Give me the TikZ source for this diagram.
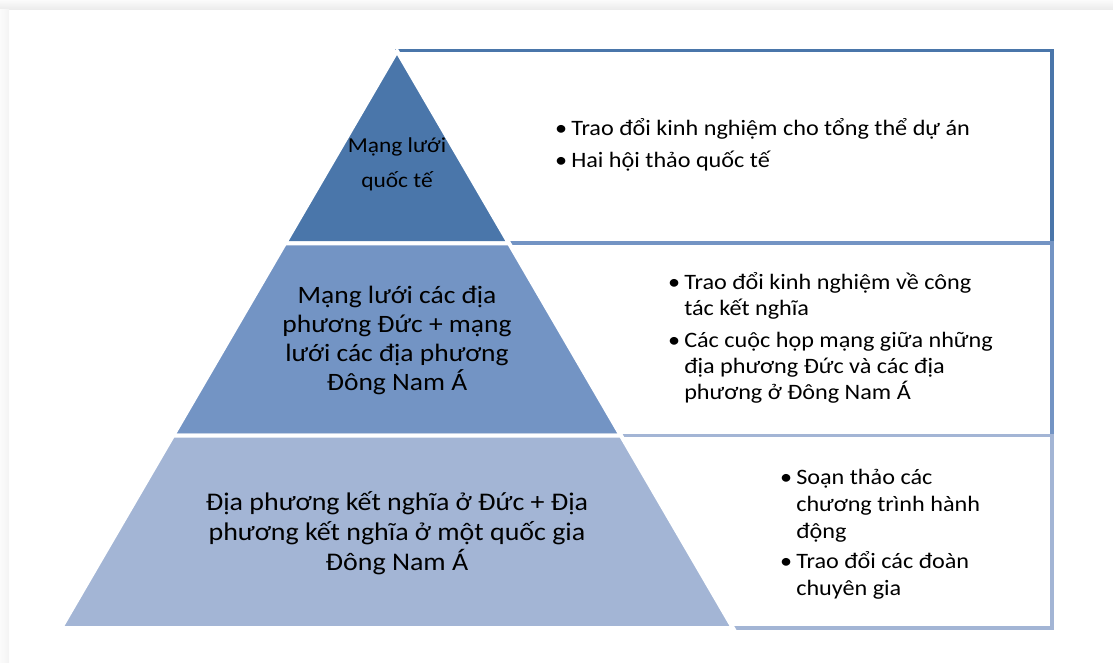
\documentclass[tikz,border=0pt]{standalone}
\usepackage{fontspec}
\setmainfont{Carlito}[FakeStretch=1.1]
\definecolor{tierone}{HTML}{4A76AA}
\definecolor{tiertwo}{HTML}{7394C4}
\definecolor{tierthree}{HTML}{A3B5D5}
\tikzset{
	tier/.style={draw=white, line width=4pt, line join=miter},
	listbox/.style={line width=3.5pt},
	tiertext/.style={align=center, inner sep=0pt},
	listtext/.style={anchor=west, inner sep=0pt, font=\fontsize{22}{26}\selectfont},
}
\newcommand{\bul}{\textbullet}

\begin{document}
\begin{tikzpicture}[x=1pt, y=-1pt]
		%%%%% START %%%%%
		\useasboundingbox (0,0) rectangle (1113,662);
		
		\shade[top color=gray!3, bottom color=gray!15] (0,0) rectangle (1113,9);
		\shade[left color=gray!3, right color=gray!9] (0,9) rectangle (9,662);
		
		\draw[listbox, draw=tierone] (397,50.5) rectangle (1052,243);
		\draw[listbox, draw=tiertwo] (397,243) rectangle (1052,435.5);
		\draw[listbox, draw=tierthree] (397,435.5) rectangle (1052,628);
		
		\filldraw[tier, fill=tierone] (397,51) -- (509,243.3) -- (285,243.3) -- cycle;
		\filldraw[tier, fill=tiertwo] (285,243.3) -- (509,243.3) -- (621,435.7) -- (173,435.7) -- cycle;
		\filldraw[tier, fill=tierthree] (173,435.7) -- (621,435.7) -- (733,628) -- (61,628) -- cycle;
		
		\node[tiertext, font=\fontsize{21.3}{35}\selectfont] (apex) at (397,164) {Mạng lưới\\quốc tế};
		\node[tiertext, font=\fontsize{25}{29}\selectfont] (middle) at (397,340) {Mạng lưới các địa\\phương Đức + mạng\\lưới các địa phương\\Đông Nam Á};
		\node[tiertext, font=\fontsize{25.4}{30}\selectfont] (base) at (397,533) {Địa phương kết nghĩa ở Đức + Địa\\phương kết nghĩa ở một quốc gia\\Đông Nam Á};
		
		\node[listtext] (toplist) at (555,146) {\begin{tabular}{@{}l@{\hspace{4pt}}l@{}}
				\bul & Trao đổi kinh nghiệm cho tổng thể dự án\\[6pt]
				\bul & Hai hội thảo quốc tế
		\end{tabular}};
		\node[listtext] (midlist) at (668,339) {\begin{tabular}{@{}l@{\hspace{4pt}}l@{}}
				\bul & Trao đổi kinh nghiệm về công\\
				& tác kết nghĩa\\[6pt]
				\bul & Các cuộc họp mạng giữa những\\
				& địa phương Đức và các địa\\
				& phương ở Đông Nam Á
		\end{tabular}};
		\node[listtext, font=\fontsize{22}{27}\selectfont] (baselist) at (780,535) {\begin{tabular}{@{}l@{\hspace{4pt}}l@{}}
				\bul & Soạn thảo các\\
				& chương trình hành\\
				& động\\[3pt]
				\bul & Trao đổi các đoàn\\
				& chuyên gia
		\end{tabular}};
		
		%%%%% END %%%%%
\end{tikzpicture}
\end{document}
